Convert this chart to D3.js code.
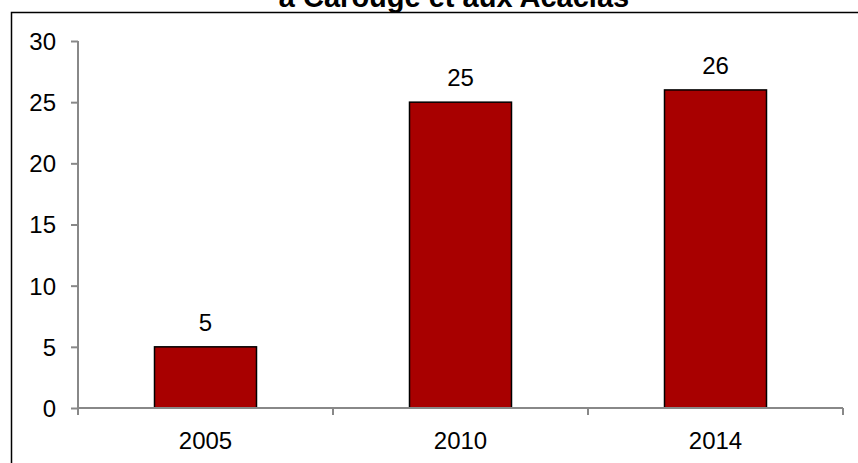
<!DOCTYPE html>
<html>
<head>
<meta charset="utf-8">
<script src="https://cdn.jsdelivr.net/npm/d3@7"></script>
<style>
  html, body { margin: 0; padding: 0; background: #fff; }
  svg { display: block; }
  text { font-family: "Liberation Sans", Arial, sans-serif; fill: #000; }
</style>
</head>
<body>
<svg id="chart" width="858" height="463"></svg>
<script>
const categories = ["2005", "2010", "2014"];
const values = [5, 25, 26];
const yTicks = [0, 5, 10, 15, 20, 25, 30];
const titleLine = "à Carouge et aux Acacias";

const W = 858, H = 463;
const svg = d3.select("#chart");

// outer chart frame (extends past the right/bottom of the picture)
svg.append("rect")
  .attr("x", 11.5).attr("y", 12.5)
  .attr("width", 900).attr("height", 500)
  .attr("fill", "#fff").attr("stroke", "#000").attr("stroke-width", 1.5);

// title (only its last line is in view)
svg.append("text")
  .attr("x", 454).attr("y", 7)
  .attr("text-anchor", "middle")
  .style("font-size", "29px").style("font-weight", "bold")
  .text(titleLine);

const plot = { left: 78, right: 843, top: 41, bottom: 408 };

const x = d3.scaleBand().domain(categories).range([plot.left, plot.right]).padding(0);
const y = d3.scaleLinear().domain([0, 30]).range([plot.bottom, plot.top]);

const barW = x.bandwidth() * 0.4;

// bars
svg.append("g").selectAll("rect")
  .data(values)
  .join("rect")
  .attr("x", (d, i) => x(categories[i]) + (x.bandwidth() - barW) / 2)
  .attr("y", d => y(d))
  .attr("width", barW)
  .attr("height", d => y(0) - y(d))
  .attr("fill", "#A80000")
  .attr("stroke", "#000")
  .attr("stroke-width", 1.5);

// value labels
svg.append("g").selectAll("text")
  .data(values)
  .join("text")
  .attr("x", (d, i) => x(categories[i]) + x.bandwidth() / 2)
  .attr("y", d => y(d) - 16)
  .attr("text-anchor", "middle")
  .style("font-size", "24px")
  .text(d => d);

// y axis
const yAxis = d3.axisLeft(y).tickValues(yTicks).tickSize(7).tickPadding(15);
const gy = svg.append("g").attr("transform", `translate(${plot.left},0)`).call(yAxis);
gy.select(".domain").attr("stroke", "#888").attr("stroke-width", 2)
  .attr("d", `M0,${plot.top}V${plot.bottom}`);
gy.selectAll(".tick line").attr("stroke", "#888").attr("stroke-width", 2);
gy.selectAll(".tick text").style("font-size", "24px").attr("fill", "#000")
  .style("font-family", '"Liberation Sans", Arial, sans-serif').attr("dy", "0.35em");

// x axis
const gx = svg.append("g").attr("transform", `translate(0,${plot.bottom})`);
gx.append("line")
  .attr("x1", plot.left).attr("x2", plot.right)
  .attr("stroke", "#888").attr("stroke-width", 2);
const bounds = categories.map(c => x(c)).concat([x(categories[categories.length - 1]) + x.bandwidth()]);
gx.selectAll("line.tk").data(bounds).join("line")
  .attr("class", "tk")
  .attr("x1", d => d).attr("x2", d => d)
  .attr("y1", 0).attr("y2", 7)
  .attr("stroke", "#888").attr("stroke-width", 2);
gx.selectAll("text").data(categories).join("text")
  .attr("x", d => x(d) + x.bandwidth() / 2)
  .attr("y", 41)
  .attr("text-anchor", "middle")
  .style("font-size", "24px")
  .text(d => d);
</script>
</body>
</html>
